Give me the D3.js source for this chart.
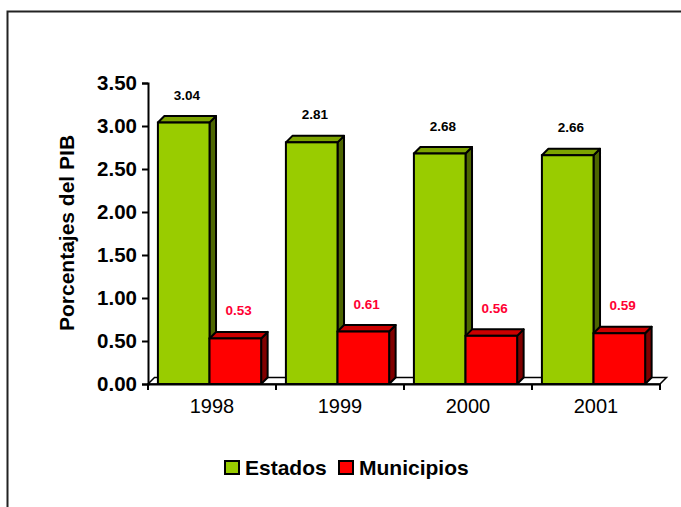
<!DOCTYPE html>
<html>
<head>
<meta charset="utf-8">
<script src="https://cdn.jsdelivr.net/npm/d3@7"></script>
<style>
  body { margin: 0; background: #fff; }
  svg { display: block; font-family: Arial, "Liberation Sans", sans-serif; }
</style>
</head>
<body>
<div id="chart"></div>
<script>
var years = ["1998", "1999", "2000", "2001"];
var series = ["Estados", "Municipios"];
var estados = [3.04, 2.81, 2.68, 2.66];
var municipios = [0.53, 0.61, 0.56, 0.59];
var yTicks = [0, 0.5, 1, 1.5, 2, 2.5, 3, 3.5];

var W = 681, H = 507;
var depth = 6.5;

var colors = {
  Estados: { front: "#99cc00", top: "#7ca300", side: "#4d6600", label: "#000" },
  Municipios: { front: "#ff0000", top: "#cc0000", side: "#800000", label: "#ff0033" }
};

var data = [];
years.forEach(function (yr, i) {
  data.push({ year: yr, s: "Estados", v: estados[i] });
  data.push({ year: yr, s: "Municipios", v: municipios[i] });
});

var svg = d3.select("#chart").append("svg")
  .attr("width", W)
  .attr("height", H);

// outer frame
svg.append("rect")
  .attr("x", 7.5).attr("y", 11.5)
  .attr("width", 720).attr("height", 600)
  .attr("fill", "none")
  .attr("stroke", "#222")
  .attr("stroke-width", 2);

var x0 = d3.scaleBand().domain(years).range([148, 660]);
var x1 = d3.scaleBand().domain(series)
  .range([0, x0.bandwidth()])
  .paddingOuter(0.24).align(0.4);
var y = d3.scaleLinear().domain([0, 3.5]).range([384, 83]);

// floor
var y0 = y(0);
svg.append("path")
  .attr("d", "M148," + y0 + "L660," + y0 + "L" + (660 + depth) + "," + (y0 - depth) +
    "L" + (148 + depth) + "," + (y0 - depth) + "Z")
  .attr("fill", "#fff")
  .attr("stroke", "#000")
  .attr("stroke-width", 1.5);

// bars
var bars = svg.selectAll(".bar")
  .data(data)
  .enter().append("g")
  .attr("class", "bar");

bars.each(function (d) {
  var g = d3.select(this);
  var bx = x0(d.year) + x1(d.s), bw = x1.bandwidth();
  var by = y(d.v), c = colors[d.s];
  // side
  g.append("path")
    .attr("d", "M" + (bx + bw) + "," + y0 + "L" + (bx + bw) + "," + by +
      "L" + (bx + bw + depth) + "," + (by - depth) + "L" + (bx + bw + depth) + "," + (y0 - depth) + "Z")
    .attr("fill", c.side).attr("stroke", "#000").attr("stroke-width", 2)
    .attr("stroke-linejoin", "round");
  // top
  g.append("path")
    .attr("d", "M" + bx + "," + by + "L" + (bx + depth) + "," + (by - depth) +
      "L" + (bx + bw + depth) + "," + (by - depth) + "L" + (bx + bw) + "," + by + "Z")
    .attr("fill", c.top).attr("stroke", "#000").attr("stroke-width", 2)
    .attr("stroke-linejoin", "round");
  // front
  g.append("rect")
    .attr("x", bx).attr("y", by)
    .attr("width", bw).attr("height", y0 - by)
    .attr("fill", c.front).attr("stroke", "#000").attr("stroke-width", 2);
  // value label
  g.append("text")
    .attr("x", bx + bw / 2 + depth / 2)
    .attr("y", by - 23)
    .attr("text-anchor", "middle")
    .attr("font-size", "13.5px")
    .attr("font-weight", "bold")
    .attr("fill", c.label)
    .text(d3.format(".2f")(d.v));
});

// y axis
var yAxis = svg.append("g")
  .attr("transform", "translate(148,0)")
  .call(d3.axisLeft(y).tickValues(yTicks).tickSize(6).tickPadding(5)
    .tickFormat(d3.format(".2f")));
yAxis.select(".domain").attr("stroke", "#000").attr("stroke-width", 2);
yAxis.selectAll(".tick line").attr("stroke", "#000").attr("stroke-width", 2);
yAxis.selectAll(".tick text")
  .attr("font-size", "20.5px")
  .attr("font-weight", "bold")
  .attr("font-family", "Arial, 'Liberation Sans', sans-serif")
  .attr("fill", "#000");

// x axis
var xAxis = svg.append("g")
  .attr("transform", "translate(0," + y0 + ")")
  .call(d3.axisBottom(x0).tickSize(0).tickPadding(15));
xAxis.select(".domain").attr("stroke", "#000").attr("stroke-width", 2);
xAxis.selectAll(".tick text")
  .attr("font-size", "20px")
  .attr("font-family", "Arial, 'Liberation Sans', sans-serif")
  .attr("fill", "#000");

var bounds = years.map(function (d) { return x0(d); }).concat([660]);
svg.selectAll(".xtick")
  .data(bounds)
  .enter().append("line")
  .attr("x1", function (d) { return d; })
  .attr("x2", function (d) { return d; })
  .attr("y1", y0).attr("y2", y0 + 6)
  .attr("stroke", "#000").attr("stroke-width", 2);

// y axis title
svg.append("text")
  .attr("transform", "translate(74,233) rotate(-90)")
  .attr("text-anchor", "middle")
  .attr("font-size", "21px")
  .attr("font-weight", "bold")
  .text("Porcentajes del PIB");

// legend
var legendX = [225, 339];
var legend = svg.selectAll(".legend")
  .data(series)
  .enter().append("g")
  .attr("class", "legend")
  .attr("transform", function (d, i) { return "translate(" + legendX[i] + ",461)"; });
legend.append("rect")
  .attr("width", 14).attr("height", 13)
  .attr("fill", function (d) { return colors[d].front; })
  .attr("stroke", "#000").attr("stroke-width", 2);
legend.append("text")
  .attr("x", 20).attr("y", 13.5)
  .attr("font-size", "21px")
  .attr("font-weight", "bold")
  .text(function (d) { return d; });
</script>
</body>
</html>
